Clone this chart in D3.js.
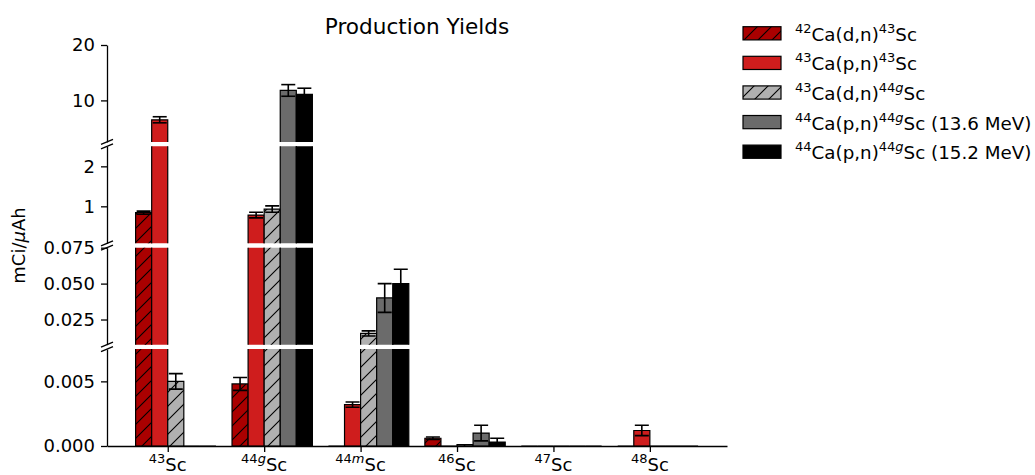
<!DOCTYPE html>
<html>
<head>
<meta charset="utf-8">
<script src="https://cdn.jsdelivr.net/npm/d3@7"></script>
<style>
  body { margin: 0; background: #fff; }
  text { font-family: "DejaVu Sans", sans-serif; fill: #000; }
</style>
</head>
<body>
<svg id="chart" width="1035" height="475"></svg>
<script>
// Scandium isotopes on the x axis: mass number + isomeric state
const isotopeMass  = ["43", "44", "44", "46", "47", "48"];
const isotopeState = ["",   "g",  "m",  "",   "",   ""];

// Yields in mCi/µAh with their uncertainties, one array per reaction route
const ca42dn43     = [0.84,   0.0048, 0,      0.0006, 0, 0];
const ca42dn43Err  = [0.04,   0.0005, 0,      0.0001, 0, 0];
const ca43pn43     = [6.5,    0.78,   0.0032, 0,      0, 0.0012];
const ca43pn43Err  = [0.55,   0.07,   0.0002, 0,      0, 0.0004];
const ca43dn44     = [0.0050, 0.93,   0.0153, 0.0001, 0, 0];
const ca43dn44Err  = [0.0006, 0.08,   0.0018, 0,      0, 0];
const ca44pn136    = [0,      11.8,   0.040,  0.0010, 0, 0];
const ca44pn136Err = [0,      1.05,   0.010,  0.0006, 0, 0];
const ca44pn152    = [0,      11.1,   0.050,  0.0003, 0, 0];
const ca44pn152Err = [0,      1.1,    0.010,  0.0003, 0, 0];

// Legend labels: [text, kind] where kind is "" (normal), "sup" or "supi" (italic superscript)
const seriesLabels = [
  [["42","sup"],["Ca(d,n)",""],["43","sup"],["Sc",""]],
  [["43","sup"],["Ca(p,n)",""],["43","sup"],["Sc",""]],
  [["43","sup"],["Ca(d,n)",""],["44","sup"],["g","supi"],["Sc",""]],
  [["44","sup"],["Ca(p,n)",""],["44","sup"],["g","supi"],["Sc (13.6 MeV)",""]],
  [["44","sup"],["Ca(p,n)",""],["44","sup"],["g","supi"],["Sc (15.2 MeV)",""]]
];

// Broken y axis: four stacked segments, top to bottom
const segmentDomains = [[2.5, 20], [0.075, 2.5], [0.0075, 0.075], [0, 0.0075]];
const segmentTicks   = [[10, 20], [1, 2], [0.025, 0.050, 0.075], [0, 0.005]];
const segmentFormats = ["d", "d", ".3f", ".3f"];

// Styles
const fillColors = ["#aa0000", "#cf1d1d", "#b0b0b0", "#6b6b6b", "#000000"];
const hatched    = [true, false, true, false, false];

const series = [
  [ca42dn43, ca42dn43Err], [ca43pn43, ca43pn43Err], [ca43dn44, ca43dn44Err],
  [ca44pn136, ca44pn136Err], [ca44pn152, ca44pn152Err]
].map(([values, errors], i) => ({ values, errors, color: fillColors[i], hatch: hatched[i], label: seriesLabels[i] }));

const svg = d3.select("#chart");
const W = 1035;
const plotLeft = 107, plotRight = 727, plotTop = 45, plotBottom = 446, gap = 4.4;
const segH = (plotBottom - plotTop - 3 * gap) / 4;
const FONT = 18;

// Hatch pattern (diagonal "/" lines)
const defs = svg.append("defs");
const hs = 14;
defs.append("pattern")
  .attr("id", "hatch").attr("patternUnits", "userSpaceOnUse")
  .attr("width", hs).attr("height", hs)
  .append("path")
  .attr("d", `M-2,2 l4,-4 M0,${hs} l${hs},${-hs} M${hs - 2},${hs + 2} l4,-4`)
  .attr("stroke", "#000").attr("stroke-width", 1.1);

const x = d3.scaleLinear().domain([-0.63, 5.8]).range([plotLeft, plotRight]);
const barW = 1 / 6;

function richText(sel, parts, supSize, rise) {
  let raised = false;
  parts.forEach(([t, kind]) => {
    const sup = kind === "sup" || kind === "supi";
    const ts = sel.append("tspan").text(t);
    if (sup && !raised) { ts.attr("dy", -rise); raised = true; }
    else if (!sup && raised) { ts.attr("dy", rise); raised = false; }
    if (sup) ts.attr("font-size", supSize);
    if (kind === "supi") ts.attr("font-style", "italic");
  });
}

segmentDomains.forEach((dom, p) => {
  const top = plotTop + p * (segH + gap);
  const bottom = top + segH;
  const y = d3.scaleLinear().domain(dom).range([bottom, top]);
  const isBottom = p === segmentDomains.length - 1;

  const clipId = "clip" + p;
  defs.append("clipPath").attr("id", clipId)
    .append("rect").attr("x", 0).attr("width", W)
    .attr("y", top).attr("height", segH + (isBottom ? 1.5 : 0));

  const g = svg.append("g").attr("clip-path", `url(#${clipId})`);

  series.forEach((s, i) => {
    s.values.forEach((v, j) => {
      if (!(v > dom[0] || isBottom)) return;
      const x0 = x(j + (i - 2) * barW), x1 = x(j + (i - 1) * barW);
      const y0 = y(0), y1 = y(v);
      const d = `M${x0},${y0}V${y1}H${x1}V${y0}Z`;
      g.append("path").attr("d", d).attr("fill", s.color)
        .attr("stroke", "#000").attr("stroke-width", 1.2);
      if (s.hatch) g.append("path").attr("d", d).attr("fill", "url(#hatch)");
    });
  });

  // Error bars
  series.forEach((s, i) => {
    s.values.forEach((v, j) => {
      const e = s.errors[j];
      if (!(e > 0)) return;
      if (v + e < dom[0] || v - e > dom[1]) return;
      const cx = x(j + (i - 1.5) * barW);
      const ya = y(v - e), yb = y(v + e);
      g.append("line").attr("x1", cx).attr("x2", cx).attr("y1", ya).attr("y2", yb)
        .attr("stroke", "#000").attr("stroke-width", 1.6);
      [ya, yb].forEach(yy => g.append("line")
        .attr("x1", cx - 7).attr("x2", cx + 7).attr("y1", yy).attr("y2", yy)
        .attr("stroke", "#000").attr("stroke-width", 1.6));
    });
  });

  // Left spine with ticks for this segment
  const ax = svg.append("g").attr("transform", `translate(${plotLeft},0)`)
    .call(d3.axisLeft(y).tickValues(segmentTicks[p])
      .tickFormat(d3.format(segmentFormats[p])).tickSize(6).tickSizeOuter(0).tickPadding(6));
  ax.select(".domain").attr("stroke-width", 1.3);
  ax.selectAll(".tick line").attr("stroke-width", 1.3);
  ax.selectAll("text").attr("font-size", FONT).attr("font-family", "DejaVu Sans, sans-serif");

  // Break marks on the spine
  const mark = yy => svg.append("line")
    .attr("x1", plotLeft - 6).attr("y1", yy + 2.5)
    .attr("x2", plotLeft + 6).attr("y2", yy - 2.5)
    .attr("stroke", "#000").attr("stroke-width", 1.3);
  if (p > 0) mark(top);
  if (!isBottom) mark(bottom);
});

// Bottom axis
const xAxis = svg.append("g").attr("transform", `translate(0,${plotBottom})`)
  .call(d3.axisBottom(x).tickValues(d3.range(isotopeMass.length))
    .tickFormat("").tickSize(6).tickSizeOuter(0));
xAxis.select(".domain").attr("stroke-width", 1.3);
xAxis.selectAll(".tick line").attr("stroke-width", 1.3);

isotopeMass.forEach((m, j) => {
  const t = svg.append("text").attr("x", x(j)).attr("y", 470.5)
    .attr("text-anchor", "middle").attr("font-size", FONT);
  const parts = [[m, "sup"]];
  if (isotopeState[j]) parts.push([isotopeState[j], "supi"]);
  parts.push(["Sc", ""]);
  richText(t, parts, 13, 8);
});

// Title
svg.append("text").attr("x", (plotLeft + plotRight) / 2).attr("y", 34)
  .attr("text-anchor", "middle").attr("font-size", 21.6).text("Production Yields");

// Y axis label
const yl = svg.append("text")
  .attr("transform", `translate(25,${(plotTop + plotBottom) / 2}) rotate(-90)`)
  .attr("text-anchor", "middle").attr("font-size", FONT);
yl.append("tspan").text("mCi/");
yl.append("tspan").attr("font-style", "italic").text("μ");
yl.append("tspan").text("Ah");

// Legend
const legend = svg.append("g");
series.forEach((s, i) => {
  const cy = 33.3 + i * 29.6;
  legend.append("rect").attr("x", 743).attr("y", cy - 6.6)
    .attr("width", 38).attr("height", 13.2)
    .attr("fill", s.color).attr("stroke", "#000").attr("stroke-width", 1.2);
  if (s.hatch) legend.append("rect").attr("x", 743).attr("y", cy - 6.6)
    .attr("width", 38).attr("height", 13.2).attr("fill", "url(#hatch)");
  const t = legend.append("text").attr("x", 795).attr("y", cy + 7.5).attr("font-size", 18.3);
  richText(t, s.label, 13, 8);
});
</script>
</body>
</html>
